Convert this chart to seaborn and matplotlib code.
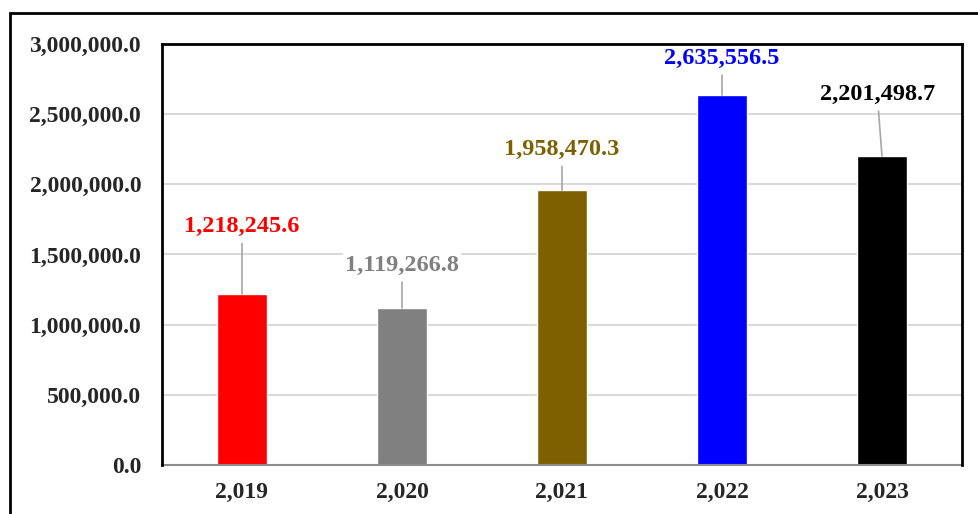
import numpy as np
import pandas as pd
import matplotlib
matplotlib.use("Agg")
import matplotlib.pyplot as plt
import seaborn as sns
from matplotlib.patches import Rectangle

# datos del gráfico
years = ["2,019", "2,020", "2,021", "2,022", "2,023"]
values = [1218245.6, 1119266.8, 1958470.3, 2635556.5, 2201498.7]
bar_colors = ["#FF0000", "#808080", "#7F6000", "#0000FF", "#000000"]
# posición de las etiquetas (valor en eje y del centro del texto)
label_y = [1700000, 1425000, 2250000, 2900000, 2643000]
label_dx = [0.0, 0.0, 0.0, 0.0, -0.03]

sns.set_style("white")
plt.rcParams["font.family"] = ["Liberation Serif", "DejaVu Serif"]

df = pd.DataFrame({"year": years, "value": values})

fig = plt.figure(figsize=(9.79, 5.14), dpi=100)
ax = fig.add_axes([162 / 979, 49 / 514, 800 / 979, 421 / 514])

sns.barplot(data=df, x="year", y="value", hue="year", palette=bar_colors,
            width=0.31, legend=False, ax=ax, saturation=1)

ax.set_ylim(0, 3000000)
ax.set_yticks(np.arange(0, 3000001, 500000))
ax.set_yticklabels([f"{v:,.1f}" for v in np.arange(0, 3000001, 500000)],
                   fontsize=17, fontweight="bold")
ax.set_xticks(range(len(years)))
ax.set_xticklabels(years, fontsize=17, fontweight="bold")
ax.tick_params(axis="x", length=0, pad=12)
ax.tick_params(axis="y", length=0, pad=15)
ax.set_xlabel("")
ax.set_ylabel("")
ax.yaxis.grid(True, color="#d9d9d9", linewidth=1.5)
ax.set_axisbelow(True)

for side in ["left", "top", "right"]:
    ax.spines[side].set_color("black")
    ax.spines[side].set_linewidth(2)
    ax.spines[side].set_zorder(5)
ax.spines["bottom"].set_color("#8c8c8c")
ax.spines["bottom"].set_linewidth(1.5)

# etiquetas de valor con línea guía
for i, (v, ly, c) in enumerate(zip(values, label_y, bar_colors)):
    ax.annotate(f"{v:,.1f}", xy=(i, v), xytext=(i + label_dx[i], ly),
                ha="center", va="center", fontsize=17.5, fontweight="bold",
                color=c, zorder=4,
                arrowprops=dict(arrowstyle="-", color="#a6a6a6", lw=1.2,
                                shrinkA=3, shrinkB=0),
                bbox=dict(boxstyle="square,pad=0.1", fc="white", ec="none"))

# marco exterior del gráfico
fig.patches.append(Rectangle((10 / 979, -0.1), 1.2, 1.1 - 13 / 514,
                             transform=fig.transFigure, fill=False,
                             edgecolor="black", linewidth=2))

plt.savefig("out.png", dpi=100)
